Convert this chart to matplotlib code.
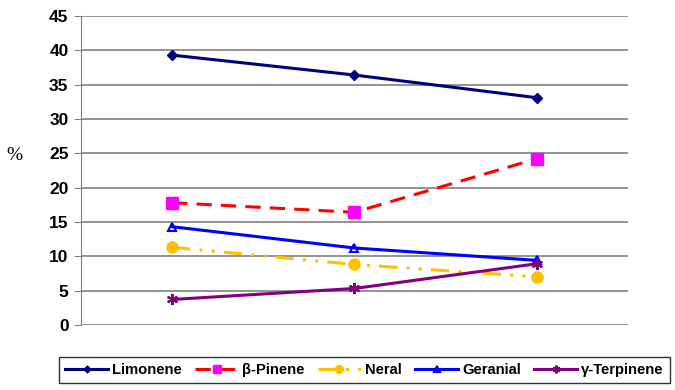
import matplotlib
matplotlib.use("Agg")
import matplotlib.pyplot as plt

# three sampling points, no category labels on the x axis
samples = [0, 1, 2]

limonene = [39.3, 36.4, 33.1]
b_pinene = [17.8, 16.4, 24.2]
neral = [11.3, 8.8, 7.0]
geranial = [14.3, 11.2, 9.4]
g_terpinene = [3.7, 5.3, 8.9]

yticks = list(range(0, 50, 5))

plt.rcParams["font.family"] = ["Liberation Sans", "DejaVu Sans"]

fig = plt.figure(figsize=(6.75, 3.9), dpi=100)
ax = fig.add_axes([0.12, 0.167, 0.81, 0.792])

ax.plot(samples, limonene, color="#000080", lw=2.2, marker="D", ms=5,
        label="Limonene")
ax.plot(samples, b_pinene, color="#FF0000", lw=2.2, ls=(0, (5, 3)),
        marker="s", ms=8, mfc="#FF00FF", mec="#FF00FF", label="β-Pinene")
ax.plot(samples, neral, color="#FFC000", lw=2.2, ls=(0, (6, 3, 1, 3, 1, 3)),
        marker="o", ms=8, label="Neral")
ax.plot(samples, geranial, color="#0000FF", lw=2.2, marker="^", ms=6,
        mfc="none", mew=1.5, label="Geranial")
ax.plot(samples, g_terpinene, color="#800080", lw=2.2, marker=(6, 2, 0),
        ms=8, mew=1.5, label="γ-Terpinene")

ax.set_xlim(-0.5, 2.5)
ax.set_ylim(0, 45)
ax.set_yticks(yticks)
ax.set_xticks([])
ax.yaxis.grid(True, color="#808080", lw=1.2)
ax.set_axisbelow(True)
for s in ("top", "right", "bottom"):
    ax.spines[s].set_visible(False)
ax.spines["left"].set_color("#808080")
ax.tick_params(axis="y", length=5, color="#808080", labelsize=12.5, pad=4)
for t in ax.get_yticklabels():
    t.set_fontweight("bold")

fig.text(0.022, 0.6, "%", fontsize=14, family="Liberation Serif",
         ha="center", va="center")

leg = fig.legend(loc="lower left", bbox_to_anchor=(0.077, 0.0), ncol=5,
                 frameon=True, fancybox=False, edgecolor="black",
                 prop={"weight": "bold", "size": 10.6}, handlelength=2.9,
                 handletextpad=0.3, columnspacing=0.9, borderpad=0.4,
                 markerscale=0.7)
leg.get_frame().set_linewidth(1.0)

fig.savefig("out.png", dpi=100)
